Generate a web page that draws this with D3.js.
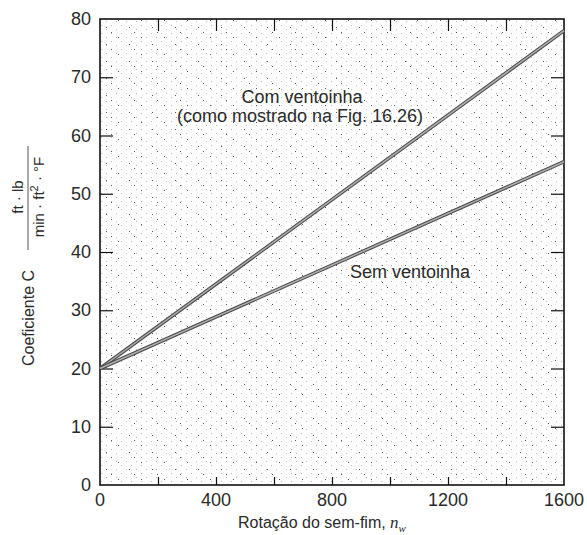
<!DOCTYPE html>
<html lang="pt">
<head>
<meta charset="UTF-8">
<title>Coeficiente C</title>
<script src="https://d3js.org/d3.v7.min.js"></script>
<style>
  body { margin: 0; background: #fff; }
  svg text { font-family: "Liberation Sans", Arial, sans-serif; fill: #2a2a2a; }
</style>
</head>
<body>
<div id="chart"></div>
<script>
// valores
const rotacao = [0, 1600];
const comVentoinha = [20, 78];
const semVentoinha = [20, 55.5];
const xTickLabels = [0, 400, 800, 1200, 1600];
const xMinorTicks = [200, 400, 600, 800, 1000, 1200, 1400];
const yTickLabels = [0, 10, 20, 30, 40, 50, 60, 70, 80];

const width = 587, height = 535;
const mLeft = 100, mRight = 564, mTop = 19, mBottom = 485;

const svg = d3.select("#chart").append("svg")
    .attr("width", width).attr("height", height);

const x = d3.scaleLinear().domain([0, 1600]).range([mLeft, mRight]);
const y = d3.scaleLinear().domain([0, 80]).range([mBottom, mTop]);

// textura pontilhada do fundo
const defs = svg.append("defs");
const pA = defs.append("pattern").attr("id", "dotsA")
    .attr("width", 10).attr("height", 8).attr("patternUnits", "userSpaceOnUse");
[[1, 1], [6, 5]].forEach(p => pA.append("rect").attr("x", p[0]).attr("y", p[1])
    .attr("width", 1).attr("height", 1).attr("fill", "#b8b8b8"));
const pB = defs.append("pattern").attr("id", "dotsB")
    .attr("width", 23).attr("height", 17).attr("patternUnits", "userSpaceOnUse");
[[3, 3], [14, 10], [19, 15]].forEach(p => pB.append("rect").attr("x", p[0]).attr("y", p[1])
    .attr("width", 1).attr("height", 1).attr("fill", "#555"));

svg.append("rect").attr("x", mLeft).attr("y", mTop)
    .attr("width", mRight - mLeft).attr("height", mBottom - mTop).attr("fill", "url(#dotsA)");
svg.append("rect").attr("x", mLeft).attr("y", mTop)
    .attr("width", mRight - mLeft).attr("height", mBottom - mTop).attr("fill", "url(#dotsB)");

// eixos com marcas para dentro
svg.append("g").attr("transform", `translate(0,${mBottom})`)
    .call(d3.axisTop(x).tickValues(xMinorTicks).tickSize(8).tickFormat(""))
    .call(g => g.select(".domain").remove());
svg.append("g").attr("transform", `translate(0,${mTop})`)
    .call(d3.axisBottom(x).tickValues(xMinorTicks).tickSize(12).tickFormat(""))
    .call(g => g.select(".domain").remove());
svg.append("g").attr("transform", `translate(${mLeft},0)`)
    .call(d3.axisRight(y).tickValues(yTickLabels.slice(1, -1)).tickSize(13).tickFormat(""))
    .call(g => g.select(".domain").remove());
svg.append("g").attr("transform", `translate(${mRight},0)`)
    .call(d3.axisLeft(y).tickValues(yTickLabels.slice(1, -1)).tickSize(13).tickFormat(""))
    .call(g => g.select(".domain").remove());
svg.selectAll(".tick line").attr("stroke", "#111").attr("stroke-width", 1.2);

svg.append("rect").attr("x", mLeft).attr("y", mTop)
    .attr("width", mRight - mLeft).attr("height", mBottom - mTop)
    .attr("fill", "none").attr("stroke", "#111").attr("stroke-width", 1.6);

// rótulos dos eixos
svg.append("g").selectAll("text").data(xTickLabels).join("text")
    .attr("x", d => x(d)).attr("y", mBottom + 21)
    .attr("text-anchor", "middle").attr("font-size", 18)
    .text(d => d);
svg.append("g").selectAll("text").data(yTickLabels).join("text")
    .attr("x", mLeft - 9).attr("y", d => y(d) + 6)
    .attr("text-anchor", "end").attr("font-size", 18)
    .text(d => d);

// curvas
const line = d3.line().x((d, i) => x(rotacao[i])).y(d => y(d));
[comVentoinha, semVentoinha].forEach(s => {
    svg.append("path").attr("d", line(s)).attr("fill", "none")
        .attr("stroke", "#4a4a4a").attr("stroke-width", 3.6);
    svg.append("path").attr("d", line(s)).attr("fill", "none")
        .attr("stroke", "#b0b0b0").attr("stroke-width", 1.5);
});

// anotações
svg.append("text").attr("x", 302).attr("y", 103).attr("text-anchor", "middle")
    .attr("font-size", 18).text("Com ventoinha");
svg.append("text").attr("x", 300).attr("y", 122).attr("text-anchor", "middle")
    .attr("font-size", 18).text("(como mostrado na Fig. 16.26)");
svg.append("text").attr("x", 410).attr("y", 278).attr("text-anchor", "middle")
    .attr("font-size", 18).text("Sem ventoinha");

// título do eixo x
const xt = svg.append("text").attr("x", 322).attr("y", 528)
    .attr("text-anchor", "middle").attr("font-size", 16);
xt.append("tspan").text("Rotação do sem-fim, ");
xt.append("tspan").attr("font-family", "Liberation Serif").attr("font-style", "italic")
    .attr("font-size", 17).text("n");
xt.append("tspan").attr("font-family", "Liberation Serif").attr("font-style", "italic")
    .attr("font-size", 11).attr("dy", 4).text("w");

// título do eixo y (rotacionado)
const yl = svg.append("g").attr("transform", "rotate(-90)");
yl.append("text").attr("x", -318).attr("y", 34).attr("text-anchor", "middle")
    .attr("font-size", 16).text("Coeficiente C");
yl.append("line").attr("x1", -250).attr("x2", -146).attr("y1", 28).attr("y2", 28)
    .attr("stroke", "#555").attr("stroke-width", 1);
yl.append("text").attr("x", -197).attr("y", 23).attr("text-anchor", "middle")
    .attr("font-size", 15).text("ft · lb");
const den = yl.append("text").attr("x", -197).attr("y", 44).attr("text-anchor", "middle")
    .attr("font-size", 15);
den.append("tspan").text("min · ft");
den.append("tspan").attr("font-size", 11).attr("dy", -6).text("2");
den.append("tspan").attr("dy", 6).text(" · °F");
</script>
</body>
</html>
